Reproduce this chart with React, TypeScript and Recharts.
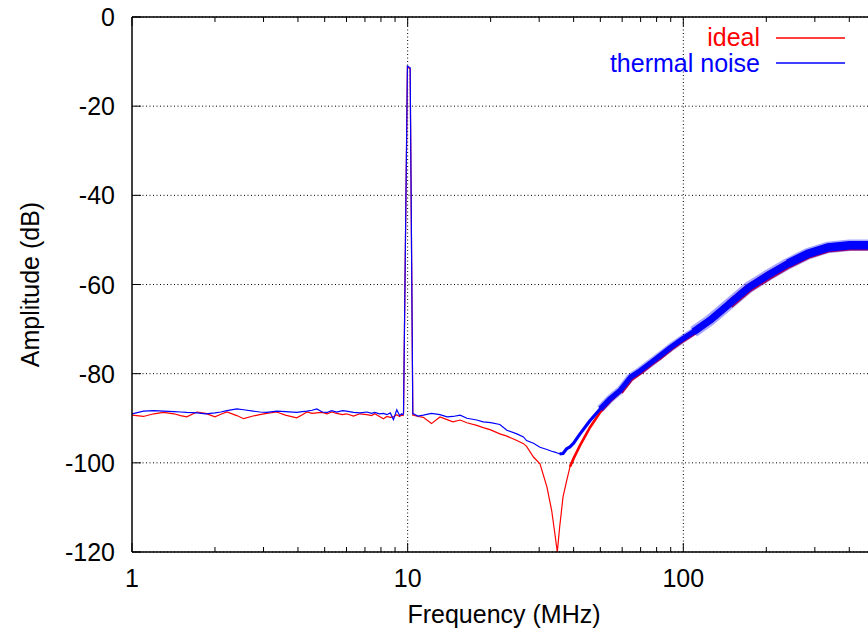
import { CartesianGrid, Label, Line, LineChart, ReferenceLine, XAxis, YAxis } from "recharts";

const FONT = "'Liberation Sans', Arial, Helvetica, sans-serif";
const RED = "#ff0000";
const BLUE = "#0000ff";
const PLOT_TOP = 17;

// frequency points (MHz)
const freq = [
  1.0, 1.1, 1.2, 1.3, 1.42, 1.5, 1.58, 1.72, 1.85, 2.0, 2.1, 2.21, 2.4, 2.54, 2.75, 2.91, 3.08, 3.35, 3.6,
  3.96, 4.15, 4.31, 4.5, 4.68, 4.9, 5.1, 5.3, 5.53, 5.8, 6.0, 6.36, 6.71, 7.11, 7.4, 7.6, 7.9, 8.17, 8.41,
  8.65, 8.88, 9.13, 9.35, 9.5, 9.62, 9.66, 9.98, 10.21, 10.44, 10.5, 10.9, 11.4, 12.2, 13.1, 13.9, 14.6,
  15.5, 16.4, 17.8, 18.8, 20.0, 21.6, 22.9, 24.9, 26.3, 27.0, 28.6, 30.2, 32.0, 33.3, 34.2, 34.9, 35.6,
  36.6, 37.8, 38.8, 40.0, 42.2, 45.9, 50.0, 54.3, 59.1, 64.3, 69.9, 76, 82.6, 90, 100, 109, 125, 147, 173,
  203, 240, 283, 334, 402, 470, 500,
];

// ideal receiver (dB)
const ideal = [
  -89.3, -89.6, -89.0, -88.7, -89.0, -89.4, -89.7, -88.6, -88.9, -89.7, -89.1, -88.6, -89.4, -90.1, -89.5,
  -89.2, -88.9, -88.6, -89.3, -89.9, -89.2, -88.6, -88.9, -88.8, -88.7, -89.0, -88.6, -88.9, -89.2, -89.0,
  -89.5, -89.0, -89.2, -89.4, -89.0, -89.6, -90.1, -89.6, -89.8, -89.7, -89.2, -89.6, -89.3, -89.4, -89.0,
  -11.2, -11.6, -89.3, -89.3, -89.6, -89.8, -91.2, -89.7, -90.3, -90.8, -90.4, -91.0, -91.6, -92.1, -92.6,
  -93.5, -94.0, -95.0, -95.7, -96.3, -98.7, -100.2, -105.4, -110.7, -115.9, -120.0, -114.4, -107.7,
  -103.8, -100.9, -99.0, -96.1, -92.0, -88.6, -86.2, -84.1, -81.2, -79.6, -77.8, -76.2, -74.3, -72.3,
  -70.8, -68.2, -64.5, -60.8, -58.1, -55.5, -53.3, -51.9, -51.4, -51.4, -51.3,
];

// with thermal noise (dB)
const thermal = [
  -89.0, -88.4, -88.3, -88.4, -88.5, -88.6, -88.7, -88.8, -89.0, -88.8, -88.6, -88.3, -87.9, -88.1, -88.4,
  -88.6, -88.7, -88.4, -88.5, -88.7, -88.5, -88.4, -88.2, -87.9, -88.6, -88.7, -88.3, -88.6, -88.3, -88.4,
  -88.7, -88.8, -88.6, -88.9, -88.7, -89.0, -88.9, -89.2, -88.8, -90.3, -88.1, -89.4, -89.0, -89.2, -88.8,
  -11.0, -11.4, -89.0, -89.0, -89.5, -89.3, -88.9, -89.2, -89.7, -89.6, -89.3, -90.0, -90.4, -90.8, -91.0,
  -91.4, -92.7, -93.5, -94.2, -95.0, -95.6, -96.5, -97.0, -97.4, -97.6, -97.8, -98.0, -97.9, -96.8, -96.4,
  -95.6, -93.5, -90.5, -87.9, -85.6, -83.7, -80.8, -79.3, -77.6, -75.9, -74.1, -72.1, -70.6, -68.0, -64.3,
  -60.6, -57.9, -55.3, -53.1, -51.7, -51.2, -51.2, -51.1,
];

const yTicks = [-120, -100, -80, -60, -40, -20, 0];
const xMajor = [1, 10, 100];
const xTicks = [1, 2, 3, 4, 5, 6, 7, 8, 9, 10, 20, 30, 40, 50, 60, 70, 80, 90, 100, 200, 300, 400];
const legendItems = [
  { label: "ideal", colour: RED },
  { label: "thermal noise", colour: BLUE },
];

// the noisy upper part of each trace is drawn as a thicker band
interface Band {
  key: string;
  src: number[];
  from: number;
  to: number;
  w: number;
  colour: string;
  opacity: number;
}
const redBands: Band[] = [
  { key: "ib1", src: ideal, from: 38.8, to: 1000, w: 2.6, colour: RED, opacity: 1 },
  { key: "ib2", src: ideal, from: 59.1, to: 1000, w: 5.5, colour: RED, opacity: 1 },
  { key: "ib3", src: ideal, from: 147, to: 1000, w: 8.5, colour: RED, opacity: 1 },
];
const blueBands: Band[] = [
  { key: "tf1", src: thermal, from: 50, to: 109, w: 8, colour: BLUE, opacity: 0.35 },
  { key: "tf2", src: thermal, from: 109, to: 1000, w: 11.5, colour: BLUE, opacity: 0.35 },
  { key: "tb1", src: thermal, from: 35.6, to: 1000, w: 3.2, colour: BLUE, opacity: 1 },
  { key: "tb2", src: thermal, from: 50, to: 1000, w: 5.2, colour: BLUE, opacity: 1 },
  { key: "tb3", src: thermal, from: 109, to: 1000, w: 7.2, colour: BLUE, opacity: 1 },
  { key: "tb4", src: thermal, from: 240, to: 1000, w: 8.5, colour: BLUE, opacity: 1 },
];

const data = freq.map((f, i) => {
  const row: Record<string, number | null> = { f, ideal: ideal[i], thermal: thermal[i] };
  for (const b of [...redBands, ...blueBands]) {
    row[b.key] = f >= b.from && f <= b.to ? b.src[i] : null;
  }
  return row;
});

function XTick(props: any) {
  const { x, y, payload } = props;
  const major = xMajor.includes(payload.value);
  const len = major ? 9 : 5;
  return (
    <g>
      <line x1={x} x2={x} y1={y} y2={y - len} stroke="#000" strokeWidth={1} />
      <line x1={x} x2={x} y1={PLOT_TOP} y2={PLOT_TOP + len} stroke="#000" strokeWidth={1} />
      {major && (
        <text x={x} y={y + 35} textAnchor="middle" fontSize={25} fontFamily={FONT} fill="#000">
          {payload.value}
        </text>
      )}
    </g>
  );
}

function YTick(props: any) {
  const { x, y, payload } = props;
  return (
    <g>
      <line x1={x} x2={x + 9} y1={y} y2={y} stroke="#000" strokeWidth={1} />
      <text x={x - 17} y={y + 9} textAnchor="end" fontSize={25} fontFamily={FONT} fill="#000">
        {payload.value}
      </text>
    </g>
  );
}

function bandLine(b: Band) {
  return (
    <Line
      key={b.key}
      dataKey={b.key}
      stroke={b.colour}
      strokeOpacity={b.opacity}
      strokeWidth={b.w}
      strokeLinejoin="round"
      dot={false}
      activeDot={false}
      legendType="none"
      isAnimationActive={false}
    />
  );
}

export default function App() {
  return (
    <div
      style={{
        position: "absolute",
        left: 0,
        top: 0,
        width: 868,
        height: 632,
        overflow: "hidden",
        background: "#fff",
        fontFamily: FONT,
      }}
    >
      <LineChart width={900} height={632} data={data} margin={{ top: PLOT_TOP, right: 24, bottom: 0, left: 0 }}>
        <CartesianGrid vertical={false} stroke="#000" strokeDasharray="1 2.5" strokeWidth={1} />
        <ReferenceLine x={10} stroke="#000" strokeDasharray="1 2.5" />
        <ReferenceLine x={100} stroke="#000" strokeDasharray="1 2.5" />
        <XAxis
          dataKey="f"
          type="number"
          scale="log"
          domain={[1, 500]}
          allowDataOverflow
          ticks={xTicks}
          interval={0}
          tick={<XTick />}
          tickSize={0}
          tickMargin={0}
          tickLine={false}
          axisLine={{ stroke: "#000", strokeWidth: 1.5 }}
          height={80}
        >
          <Label value="Frequency (MHz)" position="insideBottom" offset={9} fontSize={25} fontFamily={FONT} fill="#000" />
        </XAxis>
        <YAxis
          type="number"
          domain={[-120, 0]}
          allowDataOverflow
          ticks={yTicks}
          interval={0}
          tick={<YTick />}
          tickSize={0}
          tickMargin={0}
          tickLine={false}
          axisLine={{ stroke: "#000", strokeWidth: 1.5 }}
          width={132}
        >
          <Label
            value="Amplitude (dB)"
            angle={-90}
            position="insideLeft"
            offset={30}
            fontSize={25}
            fontFamily={FONT}
            fill="#000"
            style={{ textAnchor: "middle" }}
          />
        </YAxis>
        <ReferenceLine y={0} stroke="#000" strokeWidth={1.5} />
        <Line dataKey="ideal" stroke={RED} strokeWidth={1.2} dot={false} activeDot={false} isAnimationActive={false} />
        {redBands.map(bandLine)}
        <Line dataKey="thermal" stroke={BLUE} strokeWidth={1.2} dot={false} activeDot={false} isAnimationActive={false} />
        {blueBands.map(bandLine)}
      </LineChart>
      <svg width={868} height={632} style={{ position: "absolute", left: 0, top: 0, pointerEvents: "none" }}>
        {legendItems.map((item, i) => (
          <g key={item.label}>
            <text x={760} y={46 + i * 25.5} textAnchor="end" fontSize={25} fontFamily={FONT} fill={item.colour}>
              {item.label}
            </text>
            <line x1={776} x2={845} y1={38 + i * 25} y2={38 + i * 25} stroke={item.colour} strokeWidth={1.4} />
          </g>
        ))}
      </svg>
    </div>
  );
}
